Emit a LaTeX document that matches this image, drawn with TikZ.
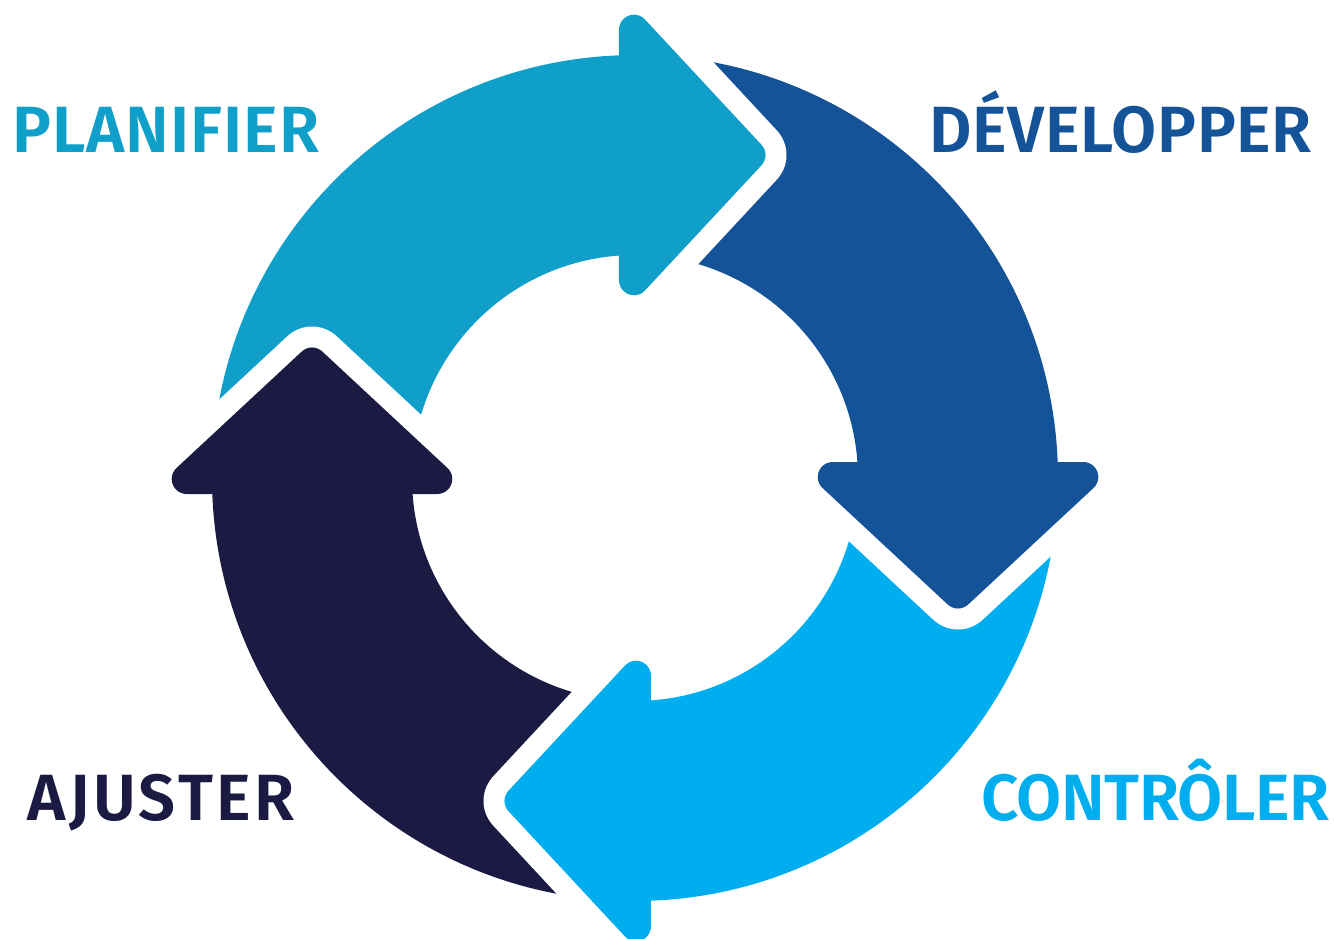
\documentclass[tikz,border=0pt]{standalone}
\usepackage{fontspec}
\newfontfamily\labfont{Fira Sans SemiBold}
\definecolor{cteal}{HTML}{109FC8}
\definecolor{cdark}{HTML}{155398}
\definecolor{cbright}{HTML}{00AEEF}
\definecolor{cnavy}{HTML}{1B1A42}
\tikzset{
  lab/.style={anchor=base west, inner sep=0pt, font=\labfont\fontsize{32.7}{36}\selectfont},
  gapline/.style={draw=white, line width=21pt, line join=round}
}
\newcommand\armbody[2]{%
  \begin{scope}[rotate=#1]
    \fill[#2] (181.355:423) arc[start angle=181.355, end angle=91.355, radius=423]
      -- (92.57:223) arc[start angle=92.57, end angle=182.57, radius=223] -- cycle;
  \end{scope}}
\newcommand\armgap[1]{%
  \begin{scope}[rotate=#1]
    \clip (-16,-700) rectangle (700,700);
    \draw[gapline] (-16,448.3) arc[start angle=180, end angle=43, radius=15]
      -- (126.5,333.2) arc[start angle=43, end angle=-43, radius=15]
      -- (9.97,187.5) arc[start angle=-43, end angle=-180, radius=15];
  \end{scope}}
\newcommand\armhead[2]{%
  \begin{scope}[rotate=#1]
    \fill[#2] (-16,197.7) -- (-16,448.3) arc[start angle=180, end angle=43, radius=15]
      -- (126.5,333.2) arc[start angle=43, end angle=-43, radius=15]
      -- (9.97,187.5) arc[start angle=-43, end angle=-180, radius=15] -- cycle;
  \end{scope}}
\begin{document}
\begin{tikzpicture}[x=0.5pt,y=0.5pt]
  \useasboundingbox (-635,-460) rectangle (699,478);
  \armbody{0}{cteal}
  \armbody{-90}{cdark}
  \armbody{-180}{cbright}
  \armbody{90}{cnavy}
  \armgap{0}
  \armgap{-90}
  \armgap{-180}
  \armgap{90}
  \armhead{0}{cteal}
  \armhead{-90}{cdark}
  \armhead{-180}{cbright}
  \armhead{90}{cnavy}
  \node[lab, text=cteal] (plan) at (-623,325) {\addfontfeatures{LetterSpace=1.5}PLANIFIER};
  \node[lab, text=cdark] (dev) at (294,325) {\addfontfeatures{LetterSpace=1}DÉVELOPPER};
  \node[lab, text=cnavy] (ajust) at (-608,-342) {\addfontfeatures{LetterSpace=5.3}AJUSTER};
  \node[lab, text=cbright] (ctrl) at (346,-342) {\addfontfeatures{LetterSpace=-0.8}CONTRÔLER};
\end{tikzpicture}
\end{document}
